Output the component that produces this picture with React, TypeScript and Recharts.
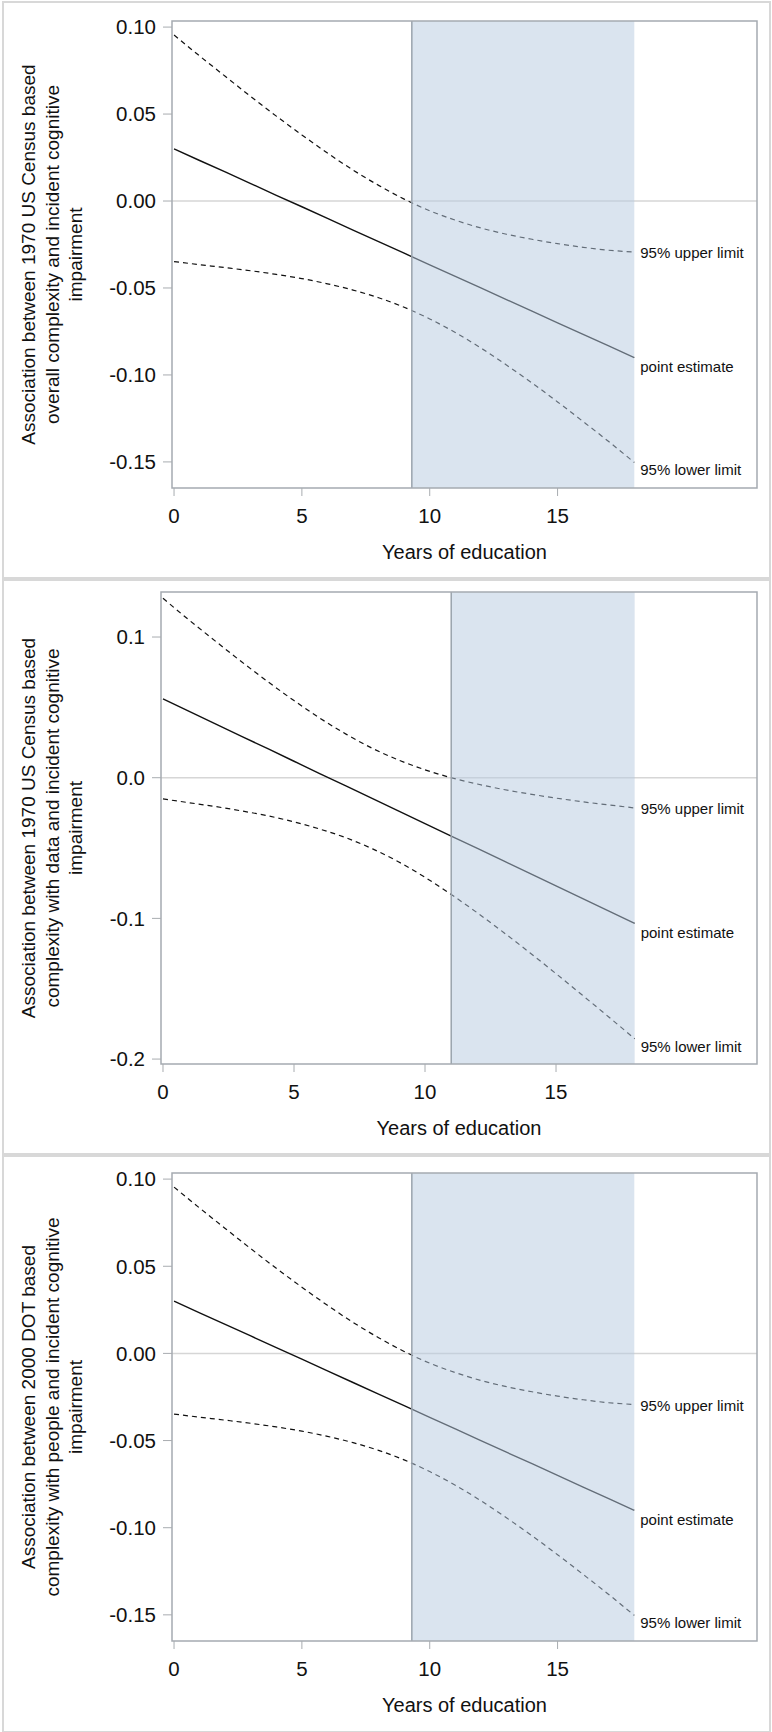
import { LineChart, Line, XAxis, YAxis, ReferenceArea, ReferenceLine } from "recharts";

const FONT = '"Liberation Sans", Arial, sans-serif';

// years of education (x)
const years = [0, 1, 2, 3, 4, 5, 6, 7, 8, 9, 10, 11, 12, 13, 14, 15, 16, 17, 18];

// panel 1: 1970 US Census, overall complexity
const overallEstimate = [0.03, 0.0233, 0.0167, 0.01, 0.0033, -0.0033, -0.01, -0.0167, -0.0233, -0.03, -0.0367, -0.0433, -0.05, -0.0567, -0.0633, -0.07, -0.0767, -0.0833, -0.09];
const overallUpper = [0.0954, 0.0834, 0.0717, 0.0601, 0.0488, 0.038, 0.0276, 0.0178, 0.009, 0.0011, -0.0056, -0.011, -0.0155, -0.0191, -0.022, -0.0245, -0.0266, -0.0283, -0.0293];
const overallLower = [-0.0348, -0.0366, -0.0383, -0.0401, -0.0422, -0.0446, -0.0476, -0.0512, -0.0556, -0.0611, -0.0678, -0.0756, -0.0845, -0.0943, -0.1046, -0.1155, -0.1268, -0.1383, -0.1503];

// panel 2: 1970 US Census, complexity with data
const dataEstimate = [0.056, 0.0471, 0.0383, 0.0294, 0.0206, 0.0117, 0.0028, -0.006, -0.0149, -0.0237, -0.0326, -0.0415, -0.0503, -0.0592, -0.068, -0.0769, -0.0858, -0.0946, -0.1035];
const dataUpper = [0.1275, 0.112, 0.0971, 0.0824, 0.0683, 0.0548, 0.0422, 0.0308, 0.0208, 0.0125, 0.0056, 0.0, -0.0045, -0.0084, -0.0116, -0.0145, -0.0171, -0.0193, -0.0215];
const dataLower = [-0.0151, -0.0178, -0.0205, -0.0236, -0.0271, -0.0314, -0.0366, -0.0428, -0.0506, -0.0599, -0.0708, -0.083, -0.0961, -0.11, -0.1244, -0.1393, -0.1545, -0.1699, -0.1855];

// panel 3: 2000 DOT, complexity with people
const peopleEstimate = [0.03, 0.0233, 0.0167, 0.01, 0.0033, -0.0033, -0.01, -0.0167, -0.0233, -0.03, -0.0367, -0.0433, -0.05, -0.0567, -0.0633, -0.07, -0.0767, -0.0833, -0.09];
const peopleUpper = [0.0954, 0.0834, 0.0717, 0.0601, 0.0488, 0.038, 0.0276, 0.0178, 0.009, 0.0011, -0.0056, -0.011, -0.0155, -0.0191, -0.022, -0.0245, -0.0266, -0.0283, -0.0293];
const peopleLower = [-0.0348, -0.0366, -0.0383, -0.0401, -0.0422, -0.0446, -0.0476, -0.0512, -0.0556, -0.0611, -0.0678, -0.0756, -0.0845, -0.0943, -0.1046, -0.1155, -0.1268, -0.1383, -0.1503];

const xTicks = [0, 5, 10, 15];
const ticks2dp = [0.1, 0.05, 0, -0.05, -0.1, -0.15];
const ticks1dp = [0.1, 0, -0.1, -0.2];

const endLabel = (text: string, shift: number) => (props: any) => {
  if (props.index !== years.length - 1) return null;
  return (
    <text x={props.x + 6} y={props.y + shift} fontSize={15} fontFamily={FONT} fill="#111">
      {text}
    </text>
  );
};

const Panel = ({ top, height, margin, estimate, upper, lower, yDomain, yTicks, digits, xDomain, bandStart, titleLines }: any) => {
  const data = years.map((year, i) => ({ year, estimate: estimate[i], upper: upper[i], lower: lower[i] }));
  const yAxisWidth = 60;
  const xAxisHeight = 30;
  const plotLeft = margin.left + yAxisWidth;
  const plotRight = 772 - margin.right;
  const plotBottom = height - margin.bottom - xAxisHeight;
  const plotMidY = (margin.top + plotBottom) / 2;
  const plotMidX = (plotLeft + plotRight) / 2;
  const tickStyle = { fontSize: 20.5, fontFamily: FONT, fill: "#111" };

  return (
    <div style={{ position: "absolute", left: 0, top, width: 772, height }}>
      <div
        style={{
          position: "absolute",
          left: 2,
          top: 1,
          width: 765,
          height: height - 4,
          border: "2px solid #d8d8d8",
        }}
      />
      <LineChart width={772} height={height} data={data} margin={margin} style={{ position: "absolute", left: 0, top: 0 }}>
        <XAxis
          dataKey="year"
          type="number"
          domain={xDomain}
          allowDataOverflow
          ticks={xTicks}
          height={xAxisHeight}
          axisLine={false}
          tickLine={{ stroke: "#a8acb0" }}
          tickSize={8}
          tickMargin={12.5}
          tick={tickStyle}
          label={{
            content: () => (
              <text x={plotMidX} y={plotBottom + 71} textAnchor="middle" fontSize={20} fontFamily={FONT} fill="#111">
                Years of education
              </text>
            ),
          }}
        />
        <YAxis
          type="number"
          domain={yDomain}
          allowDataOverflow
          ticks={yTicks}
          width={yAxisWidth}
          axisLine={false}
          tickLine={{ stroke: "#a8acb0" }}
          tickSize={9}
          tickMargin={7}
          tick={tickStyle}
          tickFormatter={(v: number) => v.toFixed(digits)}
          label={{
            content: () => (
              <g>
                {titleLines.map((line: string, i: number) => (
                  <text
                    key={i}
                    transform={`translate(${35 + i * 23.5}, ${plotMidY}) rotate(-90)`}
                    textAnchor="middle"
                    fontSize={19}
                    fontFamily={FONT}
                    fill="#111"
                  >
                    {line}
                  </text>
                ))}
              </g>
            ),
          }}
        />
        <ReferenceLine y={0} stroke="#d6d6d6" strokeWidth={1.5} />
        <Line
          type="monotone"
          dataKey="upper"
          stroke="#111"
          strokeWidth={1.2}
          strokeDasharray="5 4"
          dot={false}
          isAnimationActive={false}
          label={endLabel("95% upper limit", 6.5)}
        />
        <Line
          type="linear"
          dataKey="estimate"
          stroke="#111"
          strokeWidth={1.4}
          dot={false}
          isAnimationActive={false}
          label={endLabel("point estimate", 14.5)}
        />
        <Line
          type="monotone"
          dataKey="lower"
          stroke="#111"
          strokeWidth={1.2}
          strokeDasharray="5 4"
          dot={false}
          isAnimationActive={false}
          label={endLabel("95% lower limit", 13)}
        />
        <ReferenceArea
          x1={bandStart}
          x2={18}
          y1={yDomain[0]}
          y2={yDomain[1]}
          fill="#b5c9df"
          fillOpacity={0.5}
          stroke="none"
          zIndex={450}
        />
        <ReferenceLine x={bandStart} stroke="#9aa3ad" strokeWidth={1.5} zIndex={460} />
        <ReferenceArea
          x1={xDomain[0]}
          x2={xDomain[1]}
          y1={yDomain[0]}
          y2={yDomain[1]}
          fill="none"
          stroke="#a5abb1"
          strokeWidth={1.5}
          zIndex={470}
        />
      </LineChart>
    </div>
  );
};

export default function App() {
  return (
    <div style={{ position: "absolute", left: 0, top: 0, width: 772, height: 1732, background: "#fff" }}>
      <Panel
        top={0}
        height={578}
        margin={{ top: 21, right: 15, bottom: 60, left: 112 }}
        estimate={overallEstimate}
        upper={overallUpper}
        lower={overallLower}
        yDomain={[-0.165, 0.1035]}
        yTicks={ticks2dp}
        digits={2}
        xDomain={[-0.08, 22.8]}
        bandStart={9.3}
        titleLines={[
          "Association between 1970 US Census based",
          "overall complexity and incident cognitive",
          "impairment",
        ]}
      />
      <Panel
        top={578}
        height={576}
        margin={{ top: 14, right: 15, bottom: 60, left: 101 }}
        estimate={dataEstimate}
        upper={dataUpper}
        lower={dataLower}
        yDomain={[-0.2035, 0.132]}
        yTicks={ticks1dp}
        digits={1}
        xDomain={[-0.076, 22.67]}
        bandStart={11}
        titleLines={[
          "Association between 1970 US Census based",
          "complexity with data and incident cognitive",
          "impairment",
        ]}
      />
      <Panel
        top={1154}
        height={578}
        margin={{ top: 19, right: 15, bottom: 61, left: 112 }}
        estimate={peopleEstimate}
        upper={peopleUpper}
        lower={peopleLower}
        yDomain={[-0.165, 0.1035]}
        yTicks={ticks2dp}
        digits={2}
        xDomain={[-0.08, 22.8]}
        bandStart={9.3}
        titleLines={[
          "Association between 2000 DOT based",
          "complexity with people and incident cognitive",
          "impairment",
        ]}
      />
    </div>
  );
}
